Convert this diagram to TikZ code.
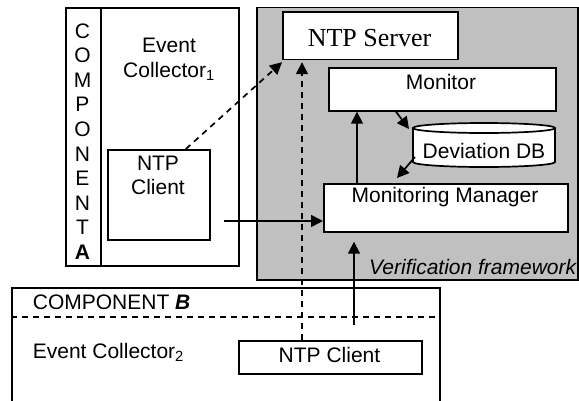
\documentclass[tikz,border=0pt]{standalone}
\usepackage{fontspec}
\setmainfont{Liberation Sans}
\newfontfamily\timesfont{Liberation Serif}
\usetikzlibrary{arrows.meta,calc}
\definecolor{fwgrey}{RGB}{192,192,192}
\begin{document}
\begin{tikzpicture}[x=1pt,y=-1pt, line width=1.7pt,
  box/.style={draw, fill=white, inner sep=0pt, anchor=north west},
  txt/.style={font=\fontsize{21}{24.6}\selectfont, inner sep=0pt, align=center},
  arr/.style={-{Triangle[length=12pt,width=12pt]}},
  dsh/.style={dash pattern=on 6pt off 5pt}]
\useasboundingbox (0,0) rectangle (579,400);
% verification framework
\node[box, fill=fwgrey, minimum width=321, minimum height=272.5] (fw) at (256,6.5) {};
\node[txt, font=\fontsize{21}{24.6}\selectfont\itshape, anchor=east] (fwlbl) at (577,267) {Verification framework};
% component A
\node[box, minimum width=35, minimum height=258] (compA) at (65,7) {};
\node[box, minimum width=138, minimum height=258] (ec1) at (100,7) {};
\node[txt] (compAtxt) at (82.5,141.5) {C\\O\\M\\P\\O\\N\\E\\N\\T\\\textbf{A}};
\node[txt] (ec1txt) at (169,59.5) {Event\\Collector\textsubscript{1}};
\node[box, minimum width=102, minimum height=90] (ntpc1) at (107,149) {};
\node[txt] (ntpc1txt) at (158,175.5) {NTP\\Client};
% component B
\node[box, minimum width=428, minimum height=130] (compB) at (11,287) {};
\draw[dsh] (compB.west |- 0,317) -- (compB.east |- 0,317);
\node[txt, anchor=west] (compBtxt) at (32,302) {COMPONENT \textbf{\textit{B}}};
\node[txt, anchor=west] (ec2txt) at (32,352) {Event Collector\textsubscript{2}};
\node[box, minimum width=183, minimum height=33] (ntpc2) at (238,340) {};
\node[txt] (ntpc2txt) at (329.5,355) {NTP Client};
% framework contents
\node[box, minimum width=175, minimum height=47.5] (ntps) at (282,11) {};
\node[txt, font=\timesfont\fontsize{26}{28}\selectfont] (ntpstxt) at (369.5,38.5) {NTP Server};
\node[box, minimum width=227, minimum height=43] (mon) at (328,67) {};
\node[txt] (montxt) at (441,82) {Monitor};
\path[draw, fill=white] (413,128) -- (413,162) arc[start angle=180, end angle=0, x radius=71, y radius=5] -- (555,128);
\draw[fill=white] (484,128) ellipse[x radius=71, y radius=5];
\node[txt] (db) at (484,151) {Deviation DB};
\node[box, minimum width=244, minimum height=48] (mm) at (323,183) {};
\node[txt] (mmtxt) at (445,197) {Monitoring Manager};
% connectors
\coordinate (a1s) at ($(ntpc1.north)+(27,0)$);
\draw[arr, dsh] (a1s) -- ($(ntps.south west)+(0,2)$);
\draw[arr, dsh] (ntpc2.north -| 302,0) -- ($(ntps.south -| 302,0)+(0,2)$);
\draw[arr] (ntpc2.north -| 354,325) ++(0,-15) coordinate (a3s) -- ($(mm.south -| 354,0)+(0,9)$);
\draw[arr] (mm.north -| 357,0) -- (mon.south -| 357,0);
\draw[arr] (mon.south -| 396,0) -- (409,129);
\draw[arr] (415,157) -- ($(mm.north -| 397,0)+(0,-5)$);
\coordinate (a7s) at (224,221);
\draw[arr] (a7s) -- (mm.west |- a7s);
\end{tikzpicture}
\end{document}
